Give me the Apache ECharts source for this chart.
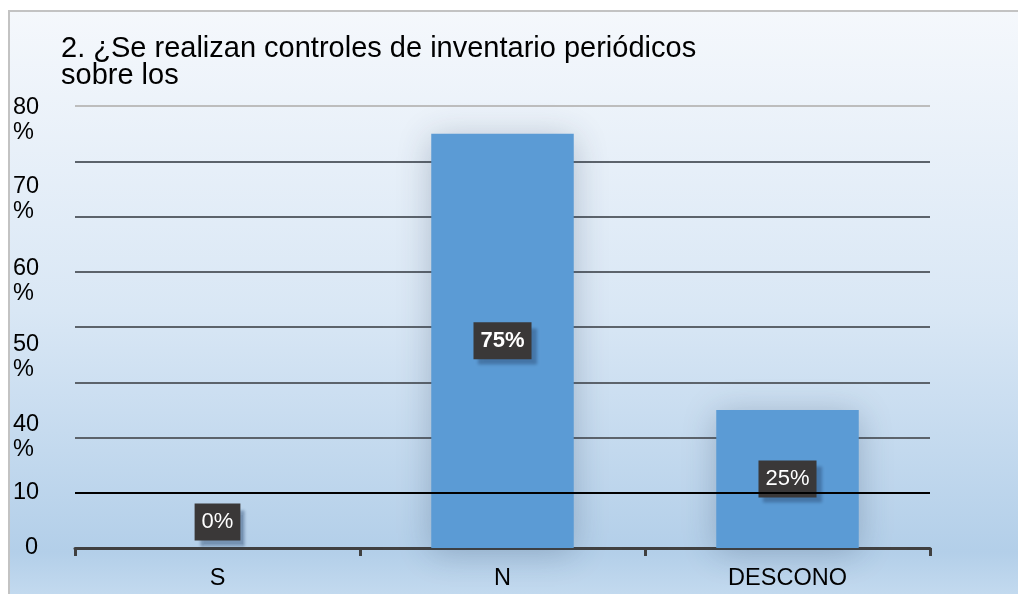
<!DOCTYPE html>
<html>
<head>
<meta charset="utf-8">
<script src="https://cdn.jsdelivr.net/npm/echarts@6/dist/echarts.min.js"></script>
<style>
html,body{margin:0;padding:0;background:#fff;}
#chart{width:1018px;height:594px;}
</style>
</head>
<body>
<div id="chart"></div>
<script>
// ---- data ----
const titleText = '2. ¿Se realizan controles de inventario periódicos\nsobre los';
const categories = ['S', 'N', 'DESCONO'];
const values = [0, 75, 25];
const valueLabels = ['0%', '75%', '25%'];
const yTickLabels = ['0', '10', '40\n%', '50\n%', '60\n%', '70\n%', '80\n%'];

// ---- layout (where the garbled tick labels sit on the 0–80 scale) ----
const yTickLabelAt = [0, 10, 20.0, 34.6, 48.3, 63.2, 77.4];

const chart = echarts.init(document.getElementById('chart'), null, {renderer: 'canvas'});

const FONT = 'Liberation Sans, Arial, sans-serif';

const labelBase = {
  show: true,
  position: 'inside',
  color: '#ffffff',
  fontFamily: FONT,
  fontSize: 22,
  backgroundColor: '#3a3838',
  padding: [8, 7, 7, 7],
  shadowColor: 'rgba(40,70,110,0.45)',
  shadowOffsetX: 5,
  shadowOffsetY: 6,
  shadowBlur: 3
};

const barData = values.map((v, i) => {
  const lab = Object.assign({}, labelBase, {formatter: valueLabels[i]});
  if (i === 1) lab.fontWeight = 'bold';
  if (v === 0) lab.offset = [0, -26];
  return {value: v, label: lab};
});

const option = {
  backgroundColor: '#ffffff',
  animation: false,
  graphic: [{
    type: 'rect',
    z: -10,
    silent: true,
    shape: {x: 9, y: 11, width: 1030, height: 600},
    style: {
      fill: new echarts.graphic.LinearGradient(0, 0, 0, 1, [
        {offset: 0, color: '#f5f8fc'},
        {offset: 0.5, color: '#d9e7f5'},
        {offset: 0.9, color: '#b3cfe9'},
        {offset: 1, color: '#c9def1'}
      ]),
      stroke: '#c3c3c3',
      lineWidth: 2
    }
  }],
  title: {
    text: titleText,
    left: 56,
    top: 30,
    textStyle: {
      fontFamily: FONT,
      fontSize: 29,
      fontWeight: 'normal',
      color: '#000000',
      lineHeight: 27
    }
  },
  grid: {left: 75, right: 88, top: 106, bottom: 46, containLabel: false},
  xAxis: {
    type: 'category',
    data: categories,
    boundaryGap: true,
    axisLine: {lineStyle: {color: '#404040', width: 3}},
    axisTick: {show: true, length: 8, alignWithLabel: false, lineStyle: {color: '#404040', width: 3}},
    axisLabel: {
      color: '#000000',
      fontFamily: FONT,
      fontSize: 23.5,
      margin: 19
    },
    splitLine: {show: false}
  },
  yAxis: [{
    type: 'value',
    min: 0,
    max: 80,
    interval: 10,
    axisLine: {show: false},
    axisTick: {show: false},
    axisLabel: {show: false},
    splitLine: {
      show: true,
      lineStyle: {
        width: 2,
        color: ['#404040', '#000000', '#5c636b', '#5c636b', '#5c636b', '#5c636b', '#5c636b', '#5c636b', '#bdbdbd']
      }
    }
  }, {
    type: 'value',
    min: 0,
    max: 80,
    position: 'left',
    axisLine: {show: false},
    axisTick: {show: false},
    splitLine: {show: false},
    axisLabel: {
      show: true,
      customValues: yTickLabelAt,
      align: 'left',
      verticalAlign: 'middle',
      margin: 62,
      color: '#000000',
      fontFamily: FONT,
      fontSize: 23.5,
      lineHeight: 25,
      formatter: function (val) {
        let best = 0, d = Infinity;
        yTickLabelAt.forEach((p, i) => { const dd = Math.abs(p - val); if (dd < d) { d = dd; best = i; } });
        const t = yTickLabels[best];
        return t === '0' ? '{z|0}' : t;
      },
      rich: {
        z: {fontSize: 23.5, color: '#000000', fontFamily: FONT, padding: [0, 0, 0, 12]}
      }
    }
  }],
  series: [{
    type: 'bar',
    yAxisIndex: 0,
    data: barData,
    barWidth: '50%',
    z: 2,
    itemStyle: {
      color: '#5b9bd5',
      shadowColor: 'rgba(40,60,90,0.28)',
      shadowBlur: 32,
      shadowOffsetY: 4
    },
    markLine: {
      silent: true,
      symbol: ['none', 'none'],
      z: 20,
      label: {show: false},
      lineStyle: {color: '#000000', width: 2, type: 'solid'},
      data: [{yAxis: 10}]
    }
  }]
};

chart.setOption(option);
</script>
</body>
</html>
